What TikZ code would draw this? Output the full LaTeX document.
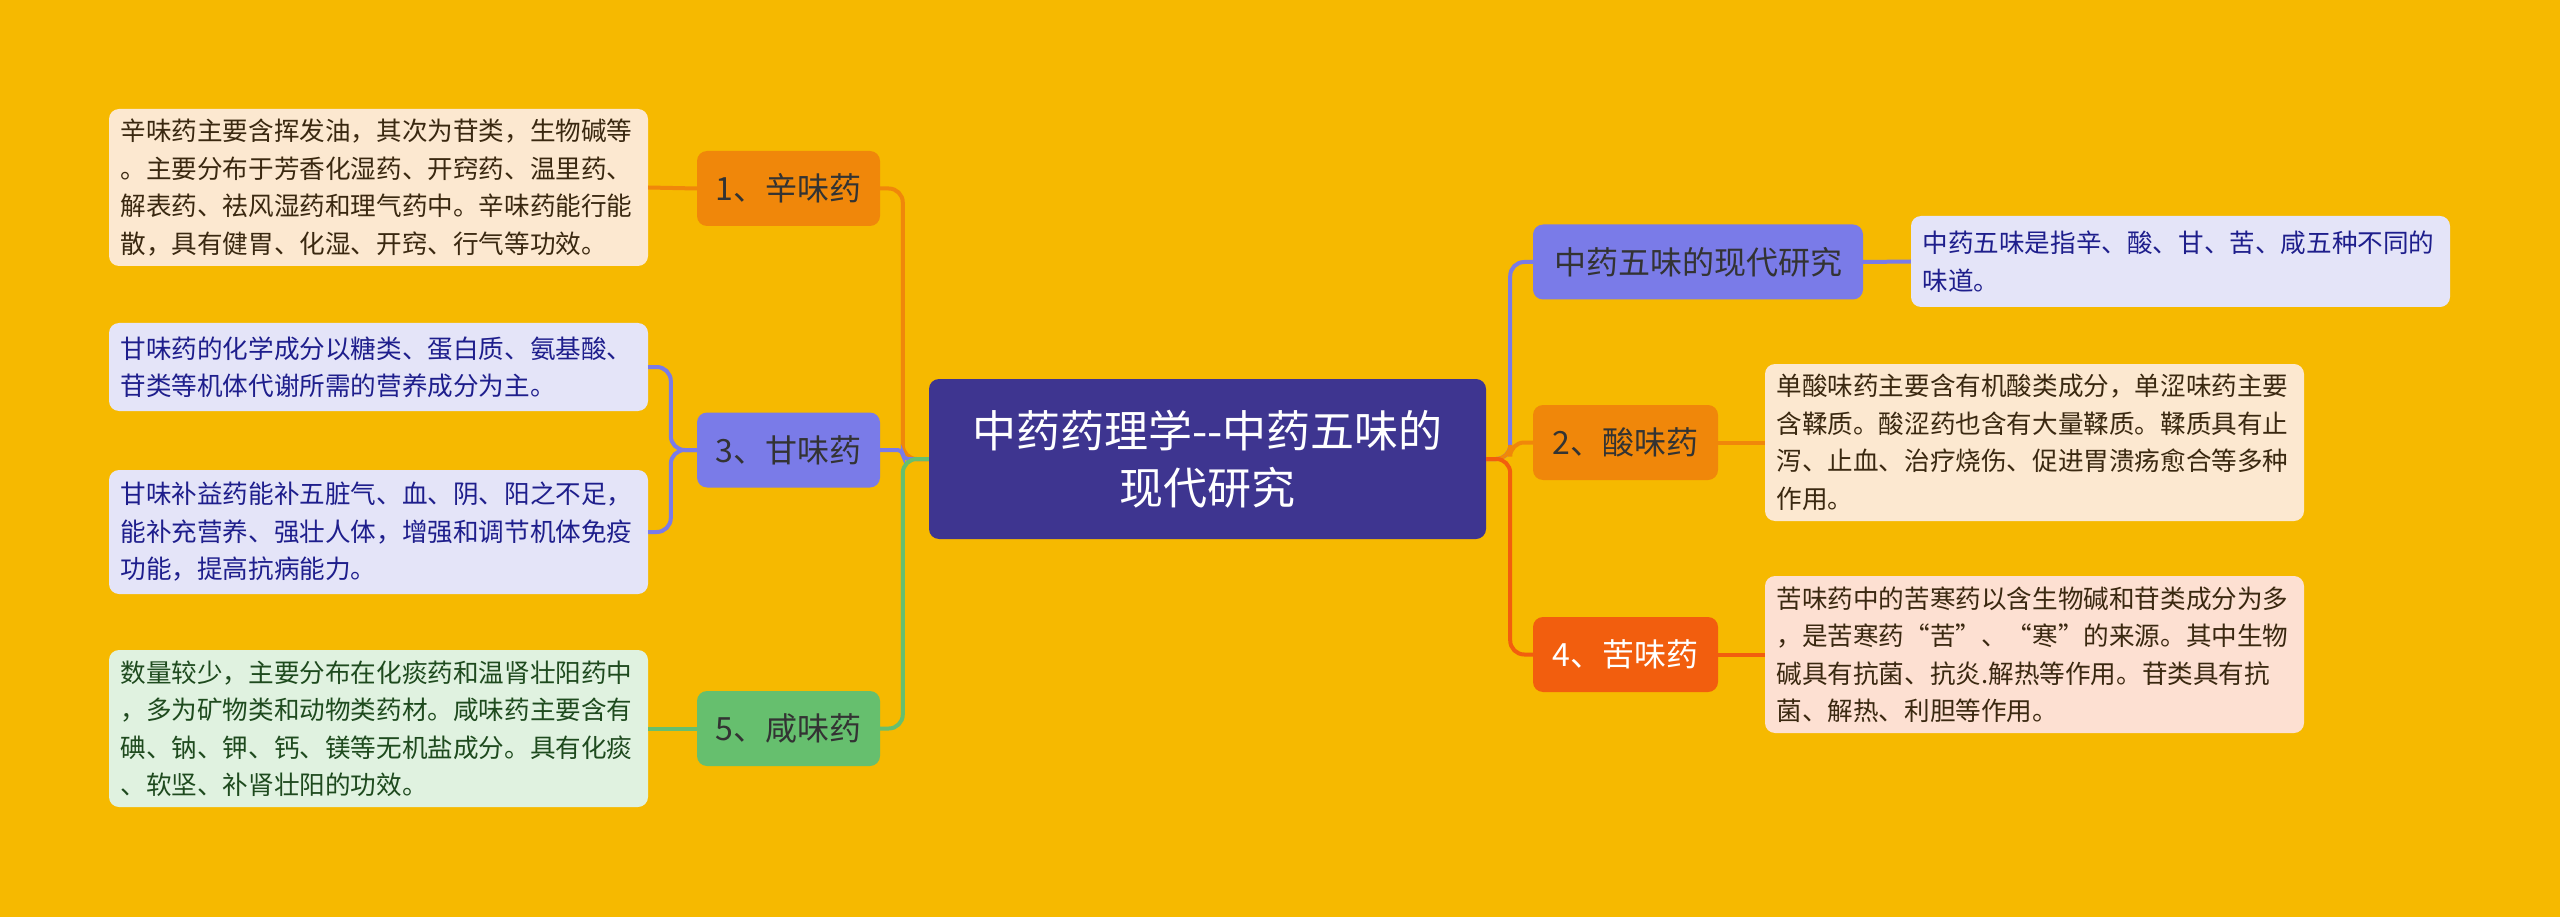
\documentclass[tikz,border=0pt]{standalone}
\usepackage{fontspec}
\setmainfont{Noto Sans CJK SC}
\definecolor{bg}{HTML}{F6B900}
\definecolor{rootc}{HTML}{3E3590}
\definecolor{orc}{HTML}{F0870A}
\definecolor{puc}{HTML}{7A7BE8}
\definecolor{grc}{HTML}{66BF6E}
\definecolor{rdc}{HTML}{F25E0E}
\definecolor{lpeach}{HTML}{FCE8D0}
\definecolor{llav}{HTML}{E4E4F8}
\definecolor{lgreen}{HTML}{E0F2E0}
\definecolor{lpink}{HTML}{FDE0D2}
\definecolor{tbrown}{HTML}{3A2810}
\definecolor{tnavy}{HTML}{1E1E8C}
\definecolor{tgreen}{HTML}{1E4A1E}
\definecolor{tgray}{HTML}{333333}
\tikzset{
  rootbox/.style={fill=rootc, rounded corners=10pt, text=white, align=center,
    minimum width=557pt, minimum height=160pt, inner sep=0pt,
    font=\fontsize{44pt}{57pt}\selectfont},
  branch/.style={rounded corners=10pt, text=tgray, inner sep=0pt,
    minimum height=75pt, font=\fontsize{32pt}{38pt}\selectfont},
  leaf/.style={rounded corners=10pt, align=left, text width=516pt, inner xsep=11.5pt,
    inner ysep=0pt, font=\fontsize{25.6pt}{37.5pt}\selectfont},
  conn/.style={line width=4pt, rounded corners=14pt}
}
\begin{document}
\begin{tikzpicture}[x=1pt,y=-1pt]
\fill[bg] (0,0) rectangle (2560,917);
\useasboundingbox (0,0) rectangle (2560,917);

% root
\node[rootbox] (root) at (1207.5,459) {中药药理学\mbox{-}\mbox{-}中药五味的\\现代研究};

% left branches
\node[branch, fill=orc, minimum width=183pt] (n1) at (788.5,188.5) {1、辛味药};
\node[branch, fill=puc, minimum width=183pt] (n3) at (788.5,450) {3、甘味药};
\node[branch, fill=grc, minimum width=183pt] (n5) at (788.5,728.5) {5、咸味药};

% right branches
\node[branch, fill=puc, minimum width=330pt] (m1) at (1698,262) {中药五味的现代研究};
\node[branch, fill=orc, minimum width=185pt] (m2) at (1625.5,442.5) {2、酸味药};
\node[branch, fill=rdc, minimum width=185pt, text=white] (m4) at (1625.5,654.5) {4、苦味药};

% leaves
\node[leaf, fill=lpeach, text=tbrown, minimum height=157pt] (l1) at (378.5,187.5)
 {辛味药主要含挥发油，其次为苷类，生物碱等\\。主要分布于芳香化湿药、开窍药、温里药、\\解表药、祛风湿药和理气药中。辛味药能行能\\散，具有健胃、化湿、开窍、行气等功效。};
\node[leaf, fill=llav, text=tnavy, minimum height=88pt] (g1) at (378.5,367)
 {甘味药的化学成分以糖类、蛋白质、氨基酸、\\苷类等机体代谢所需的营养成分为主。};
\node[leaf, fill=llav, text=tnavy, minimum height=124pt] (g2) at (378.5,532)
 {甘味补益药能补五脏气、血、阴、阳之不足，\\能补充营养、强壮人体，增强和调节机体免疫\\功能，提高抗病能力。};
\node[leaf, fill=lgreen, text=tgreen, minimum height=157pt] (l5) at (378.5,728.5)
 {数量较少，主要分布在化痰药和温肾壮阳药中\\，多为矿物类和动物类药材。咸味药主要含有\\碘、钠、钾、钙、镁等无机盐成分。具有化痰\\、软坚、补肾壮阳的功效。};
\node[leaf, fill=llav, text=tnavy, minimum height=91pt] (r1) at (2180.5,261.5)
 {中药五味是指辛、酸、甘、苦、咸五种不同的\\味道。};
\node[leaf, fill=lpeach, text=tbrown, minimum height=157pt] (r2) at (2034.5,442.5)
 {单酸味药主要含有机酸类成分，单涩味药主要\\含鞣质。酸涩药也含有大量鞣质。鞣质具有止\\泻、止血、治疗烧伤、促进胃溃疡愈合等多种\\作用。};
\node[leaf, fill=lpink, text=tbrown, minimum height=157pt] (r4) at (2034.5,654.5)
 {苦味药中的苦寒药以含生物碱和苷类成分为多\\，是苦寒药“苦”、“寒”的来源。其中生物\\碱具有抗菌、抗炎.解热等作用。苷类具有抗\\菌、解热、利胆等作用。};

% root to branches
\draw[conn, orc] (root.west) -- ++(-26,0) |- (n1.east);
\draw[conn, puc, rounded corners=5pt] (root.west) -- ++(-26,0) |- (n3.east);
\draw[conn, grc] (root.west) -- ++(-26,0) |- (n5.east);
\draw[conn, puc] (root.east) -- ++(24,0) |- (m1.west);
\draw[conn, orc] (root.east) -- ++(24,0) |- (m2.west);
\draw[conn, rdc] (root.east) -- ++(24,0) |- (m4.west);

% branches to leaves
\draw[conn, orc] (n1.west) -- (l1.east);
\draw[conn, puc] (n3.west) -- ++(-26,0) |- (g1.east);
\draw[conn, puc] (n3.west) -- ++(-26,0) |- (g2.east);
\draw[conn, grc] (n5.west) -- (l5.east);
\draw[conn, puc] (m1.east) -- (r1.west);
\draw[conn, orc] (m2.east) -- (r2.west);
\draw[conn, rdc] (m4.east) -- (r4.west);
\end{tikzpicture}
\end{document}
